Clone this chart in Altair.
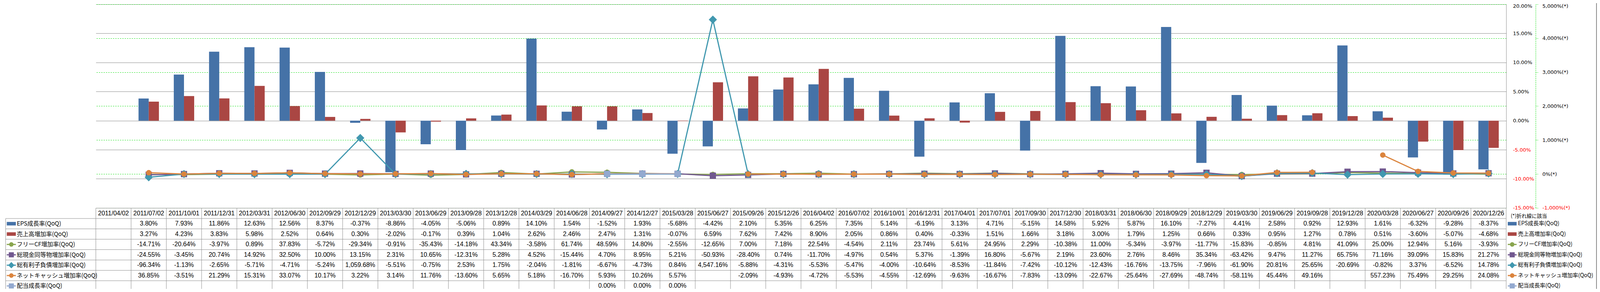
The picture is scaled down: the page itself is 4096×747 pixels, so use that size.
import altair as alt
import pandas as pd

# ---------------- data ----------------
dates = ["2011/04/02", "2011/07/02", "2011/10/01", "2011/12/31", "2012/03/31", "2012/06/30",
         "2012/09/29", "2012/12/29", "2013/03/30", "2013/06/29", "2013/09/28", "2013/12/28",
         "2014/03/29", "2014/06/28", "2014/09/27", "2014/12/27", "2015/03/28", "2015/06/27",
         "2015/09/26", "2015/12/26", "2016/04/02", "2016/07/02", "2016/10/01", "2016/12/31",
         "2017/04/01", "2017/07/01", "2017/09/30", "2017/12/30", "2018/03/31", "2018/06/30",
         "2018/09/29", "2018/12/29", "2019/03/30", "2019/06/29", "2019/09/28", "2019/12/28",
         "2020/03/28", "2020/06/27", "2020/09/26", "2020/12/26"]

eps = [None, 3.80, 7.93, 11.86, 12.63, 12.56, 8.37, -0.37, -8.86, -4.05, -5.06, 0.89, 14.10,
       1.54, -1.52, 1.93, -5.68, -4.42, 2.10, 5.35, 6.25, 7.35, 5.14, -6.19, 3.13, 4.71, -5.15,
       14.58, 5.92, 5.87, 16.10, -7.27, 4.41, 2.58, 0.92, 12.93, 1.61, -6.32, -9.28, -8.37]
sales = [None, 3.27, 4.23, 3.83, 5.98, 2.52, 0.64, 0.30, -2.02, -0.17, 0.39, 1.04, 2.62,
         2.46, 2.47, 1.31, -0.07, 6.59, 7.62, 7.42, 8.90, 2.05, 0.86, 0.40, -0.33, 1.51, 1.66,
         3.18, 3.00, 1.79, 1.25, 0.66, 0.33, 0.95, 1.27, 0.78, 0.51, -3.60, -5.07, -4.68]
fcf = [None, -14.71, -20.64, -3.97, 0.89, 37.83, -5.72, -29.34, -0.91, -35.43, -14.18, 43.34,
       -3.58, 61.74, 48.59, 14.80, -2.55, -12.65, 7.00, 7.18, 22.54, -4.54, 2.11, 23.74, 5.61,
       24.95, 2.29, -10.38, 11.00, -5.34, -3.97, -11.77, -15.83, -0.85, 4.81, 41.09, 25.00,
       12.94, 5.16, -3.93]
cash = [None, -24.55, -3.45, 20.74, 14.92, 32.50, 10.00, 13.15, 2.31, 10.65, -12.31, 5.28,
        4.52, -15.44, 4.70, 8.95, 5.21, -50.93, -28.40, 0.74, -11.70, -4.97, 0.54, 5.37, -1.39,
        16.80, -5.67, 2.19, 23.60, 2.76, 8.46, 35.34, -63.42, 9.47, 11.27, 65.75, 71.16, 39.09,
        15.83, 21.27]
debt = [None, -96.34, -1.13, -2.65, -5.71, -4.71, -5.24, 1059.68, -5.51, -0.75, 2.53, 1.75,
        -2.04, -1.81, -6.67, -4.73, 0.84, 4547.16, -5.88, -4.31, -5.53, -5.47, -4.00, -10.64,
        -8.53, -11.84, -7.42, -10.12, -12.43, -16.76, -13.75, -7.96, -61.90, 20.81, 25.65,
        -20.69, -0.82, 3.37, -6.52, 14.78]
netcash = [None, 36.85, -3.51, 21.29, 15.31, 33.07, 10.17, 3.22, 3.14, 11.76, -13.60, 5.65,
           5.18, -16.70, 5.93, 10.26, 5.57, None, -2.09, -4.93, -4.72, -5.53, -4.55, -12.69,
           -9.63, -16.67, -7.83, -13.09, -22.67, -25.64, -27.69, -48.74, -58.11, 45.44, 49.16,
           None, 557.23, 75.49, 29.25, 24.08]
dividend = [None] * 14 + [0.00, 0.00, 0.00] + [None] * 23

bar_names = ["EPS成長率(QoQ)", "売上高増加率(QoQ)"]
line_names = ["フリーCF増加率(QoQ)", "総現金同等物増加率(QoQ)", "総有利子負債増加率(QoQ)",
              "ネットキャッシュ増加率(QoQ)", "配当成長率(QoQ)"]
primary_ticks = [-15, -10, -5, 0, 5, 10, 15, 20]
secondary_ticks = [-1000, 0, 1000, 2000, 3000, 4000, 5000]
footnote = "(*)折れ線に該当"

bar_values = [eps, sales]
line_values = [fcf, cash, debt, netcash, dividend]
all_names = bar_names + line_names
all_values = bar_values + line_values

# ---------------- styles ----------------
BLUE, RED = "#4572A7", "#AA4643"
bar_colors = [BLUE, RED]
# (color, shape, chart marker size, legend marker size)
line_styles = [("#89A54E", "circle", 195, 135),
               ("#71588F", "square", 256, 170),
               ("#4198AF", "diamond", 441, 260),
               ("#DB843D", "circle", 195, 135),
               ("#93A9CF", "square", 256, 170)]
GRID_GRAY = "#8c8c8c"
GREEN = "#00dd00"
CJK = "Noto Sans CJK JP"
NUMFONT = "Liberation Sans"
AXFONT = "DejaVu Sans"

# ---------------- layout (reference px -> window px) ----------------
S = 0.58
OFF = 8.0


def cx(r):
    return r * S - OFF


PL = cx(423)
PT = cx(19)
W = cx(6648) - PL
H = cx(917) - PT


def vx(r):
    return cx(r) - PL


def vy(r):
    return cx(r) - PT


TOTAL_W = 4080
TOTAL_H = 731
NCOL = len(dates)
STEP_REF = (6648 - 423) / NCOL
PI = 1 - 90 / STEP_REF
LABEL_LEFT = (25 - 423) / STEP_REF

row_scale = alt.Scale(domain=[0, 8], range=[vy(918), vy(1284)], nice=False, zero=False)
col_scale = alt.Scale(domain=[0, NCOL], nice=False, zero=False)
band_scale = alt.Scale(domain=dates, paddingInner=PI, paddingOuter=PI / 2)
cell_scale = alt.Scale(domain=dates, paddingInner=0, paddingOuter=0)

neg_red = {"condition": {"test": "datum.value < 0", "value": "#ff0000"}, "value": "#000000"}

primary_axis = alt.Axis(
    orient="right", values=primary_ticks, title=None,
    labelExpr="(datum.value < 0 ? '-' : '') + format(abs(datum.value), '.2f') + '%'",
    labelFont=AXFONT, labelFontSize=13, labelColor=neg_red, labelPadding=16.8,
    labelOffset={"condition": {"test": "datum.value == 20", "value": 4}, "value": 0},
    ticks=False, tickSize=0, domain=True, domainColor=GRID_GRAY, domainWidth=1,
    grid=True, gridColor=GRID_GRAY, gridWidth=1,
)
sec_axis = alt.Axis(
    orient="right", values=secondary_ticks, title=None, offset=vx(6778) - W,
    labelExpr="(datum.value < 0 ? '-' : '') + format(abs(datum.value), ',') + '%(*)'",
    labelFont=AXFONT, labelFontSize=13, labelColor=neg_red, labelPadding=11,
    labelOffset={"condition": {"test": "datum.value == 5000", "value": 4}, "value": 0},
    ticks=True, tickSize=5.8, tickColor=GREEN, tickWidth=1, tickDash=[2, 2],
    domain=True, domainColor=GREEN, domainWidth=1, domainDash=[3, 2],
    grid=True, gridColor=GREEN, gridWidth=1, gridDash=[3, 3],
)

# ---------------- bars (primary axis) ----------------
bar_df = pd.DataFrame({
    "date": dates * 2,
    "series": [bar_names[0]] * NCOL + [bar_names[1]] * NCOL,
    "value": eps + sales,
})
bars = alt.Chart(bar_df).mark_bar().encode(
    x=alt.X("date:N", scale=band_scale, axis=None),
    xOffset=alt.XOffset("series:N", scale=alt.Scale(domain=bar_names, paddingInner=0, paddingOuter=0)),
    y=alt.Y("value:Q", scale=alt.Scale(domain=[-15, 20], nice=False), axis=primary_axis),
    color=alt.Color("series:N", scale=alt.Scale(domain=bar_names, range=bar_colors), legend=None),
)

# ---------------- lines (secondary axis) ----------------
line_layers = []
for name, vals, (color, shape, size, _) in zip(line_names, line_values, line_styles):
    df = pd.DataFrame({"date": dates, "value": vals})
    enc = dict(
        x=alt.X("date:N", scale=band_scale, axis=None),
        y=alt.Y("value:Q", scale=alt.Scale(domain=[-1000, 5000], nice=False, zero=False), axis=sec_axis),
    )
    line_layers.append(alt.Chart(df).mark_line(color=color, strokeWidth=3).encode(**enc))
    line_layers.append(alt.Chart(df).mark_point(filled=True, opacity=1, color=color, shape=shape,
                                                size=size, strokeWidth=0).encode(**enc))
lines_group = alt.layer(*line_layers)

# ---------------- data table ----------------
cells = []
for d in dates:
    cells.append({"date": d, "yc": 0.5, "txt": d})
for r, vals in enumerate(all_values, start=1):
    for d, v in zip(dates, vals):
        if v is not None:
            cells.append({"date": d, "yc": r + 0.5, "txt": f"{v:,.2f}%"})
cell_df = pd.DataFrame(cells)
table_text = alt.Chart(cell_df).mark_text(
    font=NUMFONT, fontSize=16, color="#000000", align="center", baseline="middle"
).encode(
    x=alt.X("date:N", scale=cell_scale, axis=None),
    y=alt.Y("yc:Q", scale=row_scale, axis=None),
    text="txt:N",
)

vl_df = pd.DataFrame({
    "x": [float(k) for k in range(NCOL + 1)] + [LABEL_LEFT],
    "y0": [0] * (NCOL + 1) + [1],
    "y1": [8] * (NCOL + 2),
})
vlines = alt.Chart(vl_df).mark_rule(color=GRID_GRAY, strokeWidth=1).encode(
    x=alt.X("x:Q", scale=col_scale, axis=None),
    y=alt.Y("y0:Q", scale=row_scale, axis=None),
    y2="y1",
)
hl_df = pd.DataFrame({
    "x0": [0.0] + [LABEL_LEFT] * 8,
    "x1": [float(NCOL)] * 9,
    "y": list(range(9)),
})
hlines = alt.Chart(hl_df).mark_rule(color=GRID_GRAY, strokeWidth=1).encode(
    x=alt.X("x0:Q", scale=col_scale, axis=None),
    x2="x1",
    y=alt.Y("y:Q", scale=row_scale, axis=None),
)


# ---------------- legends (row headers and right-hand legend) ----------------
def legend_layers(x0, x1, xt, fsize):
    out = []
    for i, name in enumerate(all_names):
        r = i + 1
        d = pd.DataFrame({"name": [name], "yc": [r + 0.5], "ya": [r + 0.5 - 0.17], "yb": [r + 0.5 + 0.17]})
        ch = alt.Chart(d)
        ycenter = alt.Y("yc:Q", scale=row_scale, axis=None)
        if i < 2:
            out.append(ch.mark_rect(color=bar_colors[i]).encode(
                x=alt.value(x0), x2=alt.value(x1),
                y=alt.Y("ya:Q", scale=row_scale, axis=None), y2="yb"))
        else:
            color, shape, _, lsize = line_styles[i - 2]
            out.append(ch.mark_rule(color=color, strokeWidth=3).encode(
                x=alt.value(x0), x2=alt.value(x1), y=ycenter))
            out.append(ch.mark_point(filled=True, opacity=1, color=color, shape=shape,
                                     size=lsize, strokeWidth=0).encode(
                x=alt.value((x0 + x1) / 2), y=ycenter))
        out.append(ch.mark_text(align="left", baseline="middle", font=CJK, fontSize=fsize,
                                color="#000000").encode(
            x=alt.value(xt), y=ycenter, text="name:N"))
    return out


legend_group = alt.layer(
    *legend_layers(vx(30), vx(70), vx(74), 15),
    *legend_layers(vx(6655), vx(6694), vx(6700), 14),
)

foot = alt.Chart(pd.DataFrame({"t": [footnote]})).mark_text(
    align="left", baseline="middle", font=CJK, fontSize=13, color="#000000"
).encode(x=alt.value(vx(6668)), y=alt.value(vy(954)), text="t:N")

frame = alt.Chart(pd.DataFrame({"a": [0]})).mark_rule(color="#8a8a8a", strokeWidth=2).encode(
    x=alt.value(TOTAL_W - 1 - PL), y=alt.value(-PT), y2=alt.value(TOTAL_H - PT)
)

chart = alt.layer(
    bars, lines_group, table_text, vlines, hlines, legend_group, foot, frame
).resolve_scale(
    x="independent", y="independent"
).properties(
    width=W, height=H,
    padding={"left": PL, "top": PT, "right": TOTAL_W - PL - W, "bottom": TOTAL_H - PT - H},
    autosize=alt.AutoSizeParams(type="none"),
).configure_view(strokeWidth=0)

chart.save("out.html", embed_options={"renderer": "svg", "actions": False})
